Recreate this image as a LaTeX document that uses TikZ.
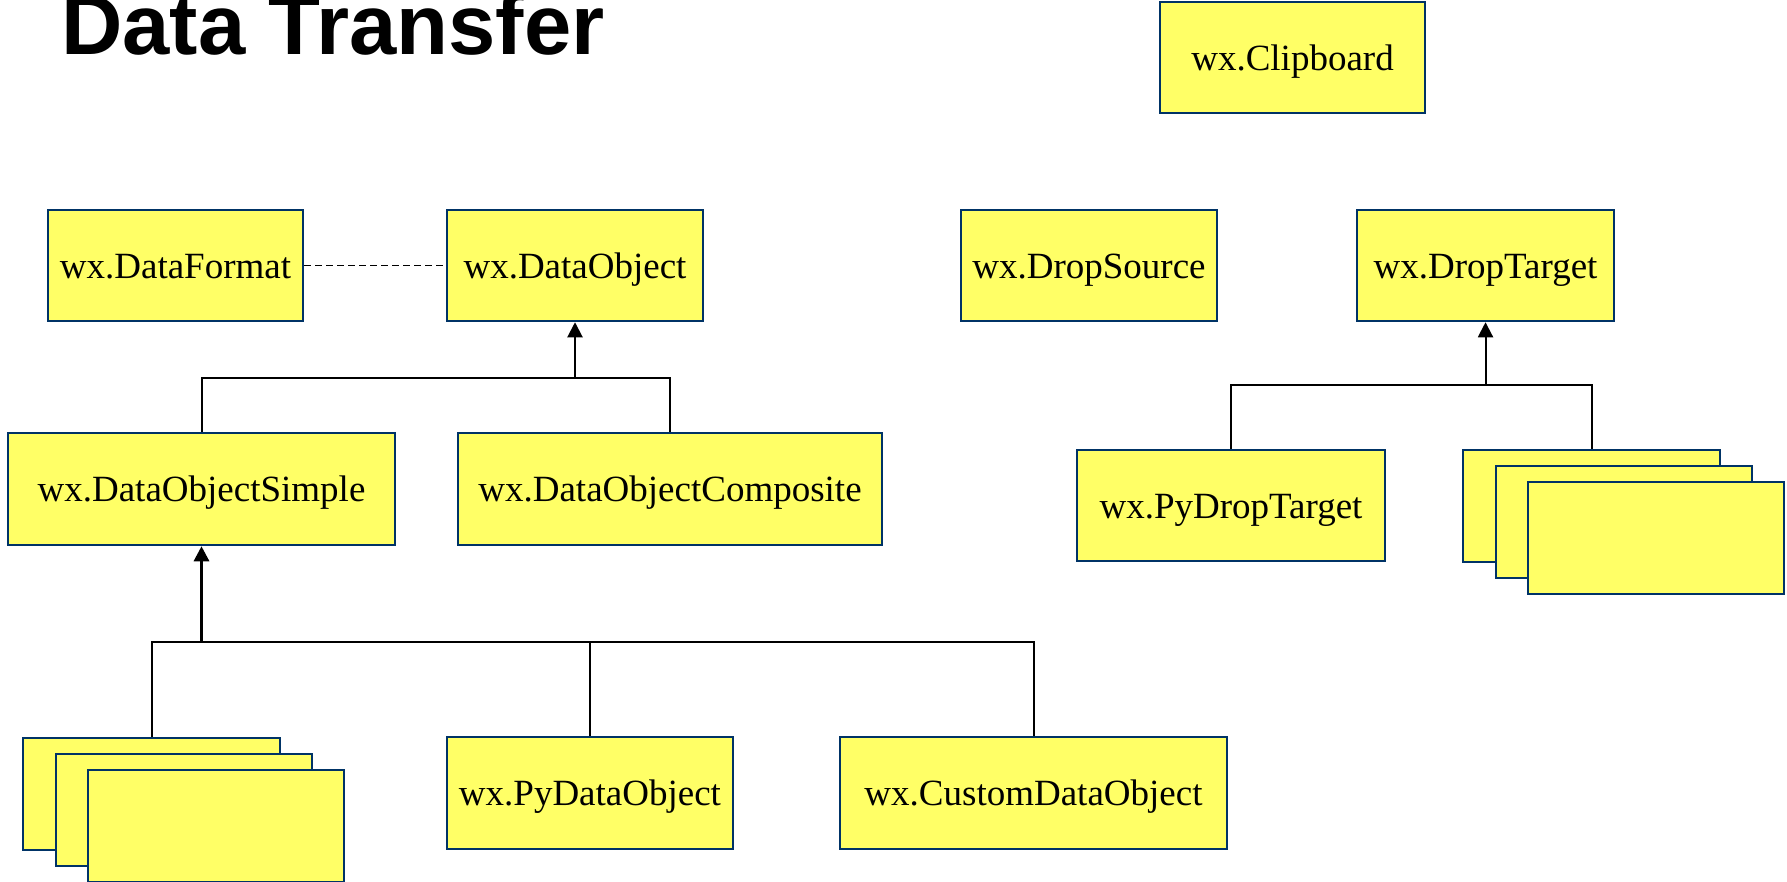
\documentclass[tikz,border=0pt]{standalone}
\usepackage{fontspec}
\setmainfont{Liberation Serif}
\newfontfamily\titlefont{Liberation Sans}
\usetikzlibrary{arrows.meta}
\definecolor{boxfill}{HTML}{FFFF66}
\definecolor{boxline}{HTML}{003366}
\tikzset{
  umlbox/.style={draw=boxline, fill=boxfill, line width=2.5pt, inner sep=0pt,
    font=\fontsize{37}{40}\selectfont, text height=28pt, text depth=2.6pt},
  conn/.style={draw=black, line width=2pt},
  inh/.style={conn, -{Triangle[width=15pt,length=15pt]}},
  dashconn/.style={draw=black, line width=1.5pt, dash pattern=on 7pt off 4pt}
}
\begin{document}
\begin{tikzpicture}[x=1pt,y=-1pt]
\useasboundingbox (0,0) rectangle (1787,882);
\node[anchor=base west, inner sep=0pt, font=\titlefont\bfseries\fontsize{85}{90}\selectfont] (title) at (61,55) {Data Transfer};

\node[umlbox, minimum width=265pt, minimum height=111pt] (clip) at (1292.5,57.5) {wx.Clipboard};
\node[umlbox, minimum width=255pt, minimum height=111pt] (fmt) at (175.5,265.5) {wx.DataFormat};
\node[umlbox, minimum width=256pt, minimum height=111pt] (dobj) at (575,265.5) {wx.DataObject};
\node[umlbox, minimum width=256pt, minimum height=111pt] (dsrc) at (1089,265.5) {wx.DropSource};
\node[umlbox, minimum width=257pt, minimum height=111pt] (dtgt) at (1485.5,265.5) {wx.DropTarget};
\node[umlbox, minimum width=387pt, minimum height=112pt] (simple) at (201.5,489) {wx.DataObjectSimple};
\node[umlbox, minimum width=424pt, minimum height=112pt] (comp) at (670,489) {wx.DataObjectComposite};
\node[umlbox, minimum width=308pt, minimum height=111pt] (pydt) at (1231,505.5) {wx.PyDropTarget};
\node[umlbox, minimum width=257pt, minimum height=112pt] (rs1) at (1591.5,506) {};
\node[umlbox, minimum width=256pt, minimum height=112pt] (rs2) at (1624,522) {};
\node[umlbox, minimum width=256pt, minimum height=112pt] (rs3) at (1656,538) {};
\node[umlbox, minimum width=257pt, minimum height=112pt] (ls1) at (151.5,794) {};
\node[umlbox, minimum width=256pt, minimum height=112pt] (ls2) at (184,810) {};
\node[umlbox, minimum width=256pt, minimum height=112pt] (ls3) at (216,826) {};
\node[umlbox, minimum width=286pt, minimum height=112pt] (pydo) at (590,793) {wx.PyDataObject};
\node[umlbox, minimum width=387pt, minimum height=112pt] (cust) at (1033.5,793) {wx.CustomDataObject};

\draw[dashconn] (fmt.east) -- (dobj.west);

\coordinate (jA) at (575,378);
\draw[inh] (jA) -- (dobj.south);
\draw[conn] (simple.north) |- (jA) -| (comp.north);

\coordinate (jB) at (201.5,642);
\draw[inh, line width=3pt] (jB) -- (simple.south);
\draw[conn] (ls1.north) |- (jB) -| (cust.north);
\draw[conn] (jB -| pydo.north) -- (pydo.north);

\coordinate (jC) at (1485.5,385);
\draw[inh] (jC) -- (dtgt.south);
\draw[conn] (pydt.north) |- (jC) -| (rs1.north);
\end{tikzpicture}
\end{document}
